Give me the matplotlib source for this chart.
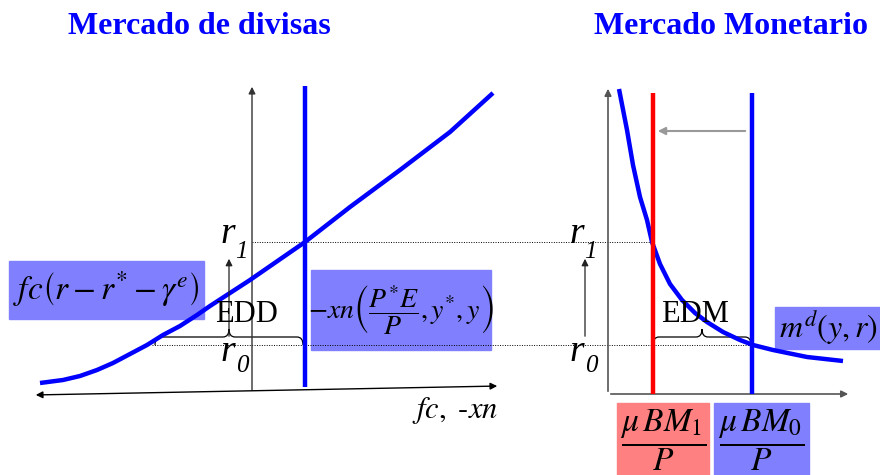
import matplotlib
matplotlib.use("Agg")
import matplotlib.pyplot as plt
from matplotlib.patches import Rectangle, PathPatch
from matplotlib.path import Path

plt.rcParams['mathtext.fontset'] = 'stix'
plt.rcParams['font.family'] = ['Liberation Serif', 'DejaVu Serif']

# ---------------- data (pixel-space of the slide) ----
titles = ["Mercado de divisas", "Mercado Monetario"]
title_x = [199, 731]

# foreign exchange market: fc curve
fc_x = [40, 63, 80, 97, 113, 130, 147, 163, 180, 197, 210, 250, 305, 350, 400, 450, 493]
fc_y = [383, 380, 376, 370, 363, 354, 345, 335, 326, 315, 306, 280, 242, 207, 170, 132, 93]
xn_line_x = 305
xn_line_y = [86, 387]

# money market: money demand curve
md_x = [619, 627, 633, 640, 647, 652, 660, 670, 682, 695, 707, 723, 740, 753, 773, 807, 843]
md_y = [89, 130, 165, 197, 220, 242, 264, 284, 300, 313, 322, 332, 340, 345, 350, 357, 361]
ms1_x = 653
ms0_x = 752
ms_y = [93, 394]

# interest-rate levels
r1_level = 242
r0_level = 345

# axes
left_vaxis_x = 252
left_vaxis_y = [393, 84]
left_haxis = [(500, 386), (33, 395)]
right_vaxis_x = 608
right_vaxis_y = [394, 86]
right_haxis_x = [608, 851]
right_haxis_y = 394

fig = plt.figure(figsize=(8.8, 4.75), dpi=100)
ax = fig.add_axes([0, 0, 1, 1])
ax.set_xlim(0, 880)
ax.set_ylim(475, 0)
ax.axis('off')

blue = '#0000ff'
red = '#ff0000'
boxblue = '#8080ff'
boxred = '#ff8080'
axcol = '#333333'

# titles
for t, x in zip(titles, title_x):
    ax.text(x, 26, t, color=blue, fontsize=23, fontweight='bold', ha='center', va='center')

# ---- left panel axes
ax.annotate('', xy=(left_vaxis_x, left_vaxis_y[1]), xytext=(left_vaxis_x, left_vaxis_y[0]),
            arrowprops=dict(arrowstyle='-|>', color=axcol, lw=1.0, mutation_scale=10))
ax.annotate('', xy=left_haxis[0], xytext=left_haxis[1],
            arrowprops=dict(arrowstyle='<|-|>', color='black', lw=1.0, mutation_scale=10))

# ---- right panel axes
ax.annotate('', xy=(right_vaxis_x, right_vaxis_y[1]), xytext=(right_vaxis_x, right_vaxis_y[0]),
            arrowprops=dict(arrowstyle='-|>', color='#555555', lw=1.2, mutation_scale=10))
ax.annotate('', xy=(right_haxis_x[1], right_haxis_y), xytext=(right_haxis_x[0], right_haxis_y),
            arrowprops=dict(arrowstyle='-|>', color='#555555', lw=1.2, mutation_scale=10))

# dotted level lines
ax.plot([left_vaxis_x, ms1_x], [r1_level, r1_level], color='black', lw=0.7, ls=(0, (1, 1.5)))
ax.plot([152, ms0_x], [r0_level, r0_level], color='black', lw=0.7, ls=(0, (1, 1.5)))

# boxes
ax.add_patch(Rectangle((9, 261), 195, 58, color=boxblue, zorder=1))
ax.text(106, 289, r'$fc\left(r-r^{*}-\gamma^{e}\right)$', fontsize=24, ha='center', va='center', zorder=2)

ax.add_patch(Rectangle((311, 270), 180, 80, color=boxblue, zorder=1))
ax.text(401, 310, r'$-xn\left(\dfrac{P^{*}E}{P},y^{*},y\right)$', fontsize=20, ha='center', va='center', zorder=2)

ax.add_patch(Rectangle((775, 307), 105, 42, color=boxblue, zorder=1))
ax.text(828, 328, r'$m^{d}\left(y,r\right)$', fontsize=23, ha='center', va='center', zorder=2)

ax.add_patch(Rectangle((617, 403), 92, 72, color=boxred, zorder=1))
ax.text(663, 440, r'$\dfrac{\mu\,BM_{1}}{P}$', fontsize=24, ha='center', va='center', zorder=2)
ax.add_patch(Rectangle((714, 403), 95, 72, color=boxblue, zorder=1))
ax.text(761, 440, r'$\dfrac{\mu\,BM_{0}}{P}$', fontsize=24, ha='center', va='center', zorder=2)

# curves and lines
ax.plot(fc_x, fc_y, color=blue, lw=3.2, solid_capstyle='butt', solid_joinstyle='round', zorder=3)
ax.plot([xn_line_x, xn_line_x], xn_line_y, color=blue, lw=3.2, solid_capstyle='butt', zorder=3)

ax.plot(md_x, md_y, color=blue, lw=3.2, solid_capstyle='butt', solid_joinstyle='round', zorder=3)
ax.plot([ms1_x, ms1_x], ms_y, color=red, lw=3.2, solid_capstyle='butt', zorder=3)
ax.plot([ms0_x, ms0_x], ms_y, color=blue, lw=3.2, solid_capstyle='butt', zorder=3)

# shift arrow
ax.annotate('', xy=(655, 131), xytext=(748, 131),
            arrowprops=dict(arrowstyle='-|>', color='#999999', lw=1.5, mutation_scale=11))

# r arrows
for x in (229, 585):
    ax.annotate('', xy=(x, 256), xytext=(x, 339),
                arrowprops=dict(arrowstyle='-|>', color='#222222', lw=0.9, mutation_scale=10))

# r labels (italic r with italic subscript)
for x in (228, 577):
    ax.text(x, 243, 'r', fontsize=27, style='italic', ha='center', va='baseline', zorder=4)
    ax.text(x + 13, 258, '1', fontsize=18, style='italic', ha='center', va='baseline', zorder=4)
    ax.text(x, 361, 'r', fontsize=27, style='italic', ha='center', va='baseline', zorder=4)
    ax.text(x + 14, 372, '0', fontsize=18, style='italic', ha='center', va='baseline', zorder=4)

# braces
def brace(x0, x1, y_end, y_flat, y_tip):
    xm = (x0 + x1) / 2
    r = 6
    verts = [(x0, y_end), (x0, y_flat), (x0 + r, y_flat), (x0 + r, y_flat),
             (xm - r, y_flat), (xm, y_flat), (xm, y_tip),
             (xm, y_flat), (xm + r, y_flat), (xm + r, y_flat),
             (x1 - r, y_flat), (x1, y_flat), (x1, y_end)]
    codes = [Path.MOVETO, Path.CURVE3, Path.CURVE3, Path.LINETO,
             Path.LINETO, Path.CURVE3, Path.CURVE3,
             Path.CURVE3, Path.CURVE3, Path.LINETO,
             Path.LINETO, Path.CURVE3, Path.CURVE3]
    ax.add_patch(PathPatch(Path(verts, codes), fill=False, lw=0.9, color='black', zorder=2))

brace(155, 303, 345, 337, 329)
brace(653, 751, 345, 337, 329)

ax.text(246, 315, 'EDD', fontsize=22, ha='center', va='center', zorder=4)
ax.text(695, 315, 'EDM', fontsize=22, ha='center', va='center', zorder=4)

ax.text(455, 410, r'$fc,\ \text{-}xn$', fontsize=22, ha='center', va='center')

fig.savefig('out.png', dpi=100)
